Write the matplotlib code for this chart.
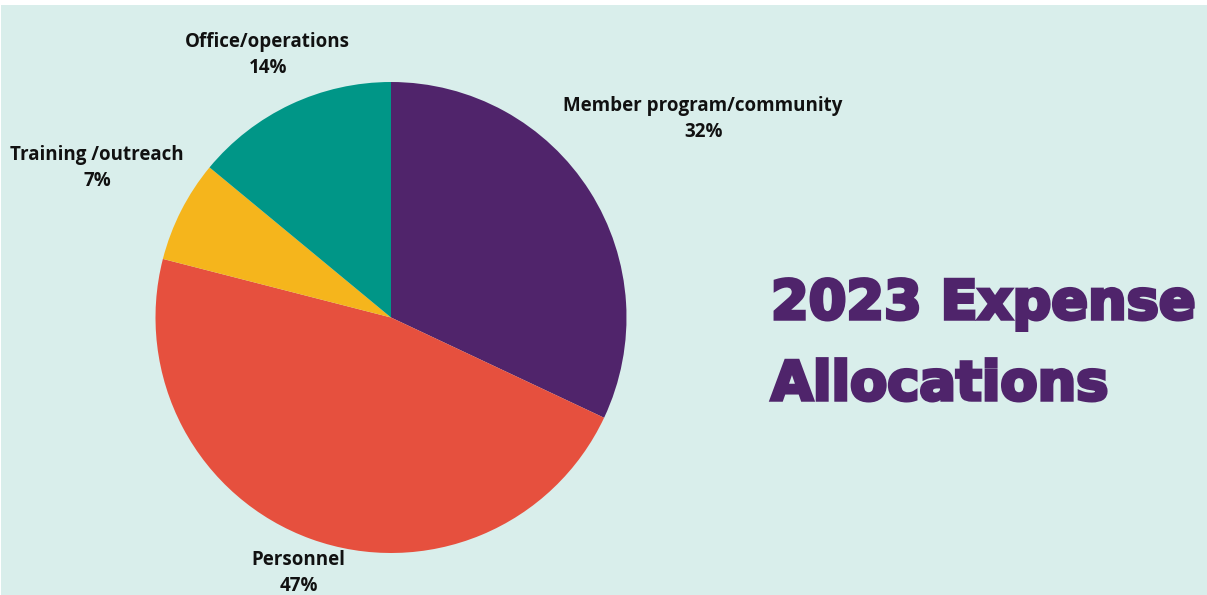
import matplotlib
matplotlib.use("Agg")
import matplotlib.pyplot as plt
from matplotlib.patches import Rectangle
import matplotlib.patheffects as pe
import numpy as np

categories = ["Member program/community", "Personnel", "Training /outreach", "Office/operations"]
values = [32, 47, 7, 14]
pct_labels = ["32%", "47%", "7%", "14%"]
colors = ["#50246b", "#e6503e", "#f5b51c", "#009687"]
label_dist = [1.57, 1.155, 1.40, 1.23]
title_lines = ["2023 Expense", "Allocations"]

W, H = 1207, 595
fig = plt.figure(figsize=(W / 100, H / 100), dpi=100, facecolor="white")
ax = fig.add_axes([0, 0, 1, 1])
ax.set_facecolor("white")

ax.add_patch(Rectangle((1, 0), W - 1, H - 5, facecolor="#d9eeeb", edgecolor="none", zorder=0))

cx, cy, r = 391, H - 317.5, 235.5
wedges, _ = ax.pie(values, colors=colors, startangle=90, counterclock=False,
                   center=(cx, cy), radius=r, frame=True,
                   wedgeprops=dict(linewidth=0, antialiased=True))
for w in wedges:
    w.set_zorder(2)

for w, cat, pct, d in zip(wedges, categories, pct_labels, label_dist):
    ang = np.deg2rad((w.theta1 + w.theta2) / 2)
    x = cx + d * r * np.cos(ang)
    y = cy + d * r * np.sin(ang)
    ax.text(x, y, f"{cat}\n{pct}", ha="center", va="center", fontsize=13.5,
            fontfamily="Open Sans", fontweight="bold", color="#111111",
            linespacing=1.4, zorder=3)

title_color = "#4f246b"
for line, yb in zip(title_lines, [319, 400]):
    ax.text(771, H - yb, line, ha="left", va="baseline", fontsize=39,
            fontfamily="DejaVu Sans", fontweight="bold", color=title_color,
            path_effects=[pe.Stroke(linewidth=2.5, foreground=title_color,
                                    joinstyle="miter"), pe.Normal()])

ax.set_xlim(0, W)
ax.set_ylim(0, H)
ax.set_aspect("auto")
ax.axis("off")

fig.savefig("out.png", dpi=100, facecolor="white")
